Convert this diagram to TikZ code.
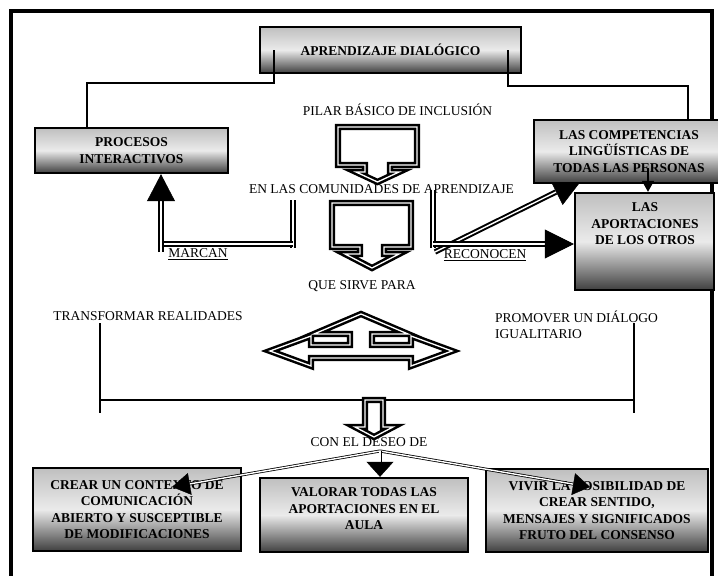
\documentclass[tikz,border=0pt]{standalone}
\usepackage{fontspec}
\setmainfont{Liberation Serif}
\usetikzlibrary{arrows.meta,calc,backgrounds}
\begin{document}
\begin{tikzpicture}[x=1pt,y=-1pt,
  box/.style={draw=black, line width=2.4pt, top color=black!25, bottom color=black!75, middle color=white!92!black,
              font=\bfseries\fontsize{13.5}{16.5}\selectfont, align=center, inner sep=0pt},
  plaintxt/.style={font=\fontsize{13.5}{16}\selectfont, inner sep=0pt, anchor=base},
  boldtxt/.style={font=\bfseries\fontsize{13.5}{16.5}\selectfont, inner sep=0pt, align=center},
  thinline/.style={draw=black, line width=1.6pt},
  dconn/.style={draw=black, line width=2pt, double=white, double distance=1.4pt},
  thind/.style={draw=black, line width=0.8pt, double=white, double distance=1.4pt},
  blockar/.style={draw=black, line width=2.5pt, double=white, double distance=1.3pt, fill=white, line join=miter},
]
\useasboundingbox (0,0) rectangle (718,576);
\fill[white] (0,0) rectangle (718,576);

% outer frame
\draw[line width=4pt] (10.5,590) -- (10.5,11) -- (712,11) -- (712,590);

% diagonal arrow under the COMPETENCIAS box (drawn first)
\coordinate (d0) at (435,252);
\coordinate (d1) at (556,192);
\coordinate (d2) at (583,178.5);
\draw[dconn] (d0) -- (d1);
\draw[line width=0.5pt, -{Triangle[length=30pt,width=29pt]}] (d1) -- (d2);

% boxes
\node[box, minimum width=261pt, minimum height=46pt] (title) at (390.5,50) {APRENDIZAJE DIALÓGICO};
\node[box, minimum width=193pt, minimum height=45pt] (procesos) at (131.5,150.5) {PROCESOS\\INTERACTIVOS};
\node[box, minimum width=190pt, minimum height=63pt] (compet) at (629,151.5) {LAS COMPETENCIAS\\LINGÜÍSTICAS DE\\TODAS LAS PERSONAS};
\node[box, minimum width=139pt, minimum height=97pt] (aport) at (644.5,241.5) {};
\node[boldtxt] (aporttxt) at (645,224) {LAS\\APORTACIONES\\DE LOS OTROS};
\node[box, minimum width=208pt, minimum height=83pt] (crear) at (137,509.5) {CREAR UN CONTEXTO DE\\COMUNICACIÓN\\ABIERTO Y SUSCEPTIBLE\\DE MODIFICACIONES};
\node[box, minimum width=208pt, minimum height=74pt] (valorar) at (364,515) {};
\node[boldtxt] (valtxt) at (364,509) {VALORAR TODAS LAS\\APORTACIONES EN EL\\AULA};
\node[box, minimum width=222pt, minimum height=83pt] (vivir) at (597,510.5) {VIVIR LA POSIBILIDAD DE\\CREAR SENTIDO,\\MENSAJES Y SIGNIFICADOS\\FRUTO DEL CONSENSO};

% title connectors
\draw[thinline] (274,50) -- (274,83) -- (87,83) -- (procesos.north -| 87,0);
\draw[thinline] (508,50) -- (508,86) -- (688,86) -- (compet.north -| 688,0);

% competencias -> aportaciones
\draw[line width=1.2pt, -{Triangle[length=11pt,width=12pt]}] (648,168) -- (aport.north -| 648,0);

% plain texts
\node[plaintxt] (pilar) at (397.5,115.5) {PILAR BÁSICO DE INCLUSIÓN};
\node[plaintxt] (comun) at (381.5,193.5) {EN LAS COMUNIDADES DE APRENDIZAJE};
\node[plaintxt] (que) at (362,289.5) {QUE SIRVE PARA};
\node[plaintxt] (marcan) at (198,257.5) {\underline{MARCAN}};
\node[plaintxt] (recon) at (485,258.5) {\underline{RECONOCEN}};
\node[plaintxt] (transf) at (148,320.5) {TRANSFORMAR REALIDADES};
\node[font=\fontsize{13.5}{16}\selectfont, inner sep=0pt, align=left, anchor=north west] (promo) at (495,311) {PROMOVER UN DIÁLOGO\\IGUALITARIO};
\node[plaintxt] (deseo) at (369,446.5) {CON EL DESEO DE};

% callout block arrows
\draw[blockar] (338,127) -- (417,127) -- (417,165) -- (390,165) -- (390,172) -- (399,172) -- (377.5,182)
  -- (356,172) -- (365,172) -- (365,165) -- (338,165) -- cycle;
\draw[blockar] (332,203) -- (411,203) -- (411,247) -- (384,247) -- (384,254) -- (399,254) -- (372,268)
  -- (345,254) -- (360,254) -- (360,247) -- (332,247) -- cycle;

% left-right-up arrow
\draw[blockar] (270,351) -- (311,336) -- (311,345) -- (350,345) -- (350,334) -- (314,334) -- (361,314)
  -- (408,334) -- (372,334) -- (372,345) -- (411,345) -- (411,336) -- (452,351) -- (411,366)
  -- (411,358) -- (311,358) -- (311,366) -- cycle;

% MARCAN connector
\coordinate (m0) at (293,200);
\coordinate (m1) at (161,244);
\coordinate (m2) at (161,200);
\draw[dconn] (m0) -- (293,248);
\draw[dconn] (m1 -| 293,0) -- (m1);
\draw[dconn] (161,252) -- (m2);
\draw[line width=0.5pt, -{Triangle[length=27pt,width=28pt]}] (m2) -- (procesos.south -| m2);

% RECONOCEN connector
\coordinate (r0) at (433,190);
\coordinate (r1) at (546,244);
\draw[dconn] (r0) -- (433,248);
\draw[dconn] (433,244) -- (r1);
\draw[line width=0.5pt, -{Triangle[length=29pt,width=29pt]}] (r1) -- (aport.west |- r1);

% bracket lines
\draw[thinline] (100,323) -- (100,413);
\draw[thinline] (634,323) -- (634,413);
\draw[thinline] (100,400) -- (634,400);

% small down block arrow
\draw[blockar] (365,400) -- (383,400) -- (383,427) -- (393,427) -- (374,437) -- (355,427) -- (365,427) -- cycle;

% three arrows from CON EL DESEO DE
\coordinate (apex) at (380,451);
\coordinate (tl) at (172,487);
\coordinate (tr) at (590,487);
\coordinate (bl) at ($(tl)!18pt!(apex)$);
\coordinate (br) at ($(tr)!17pt!(apex)$);
\coordinate (bm) at (380,465);
\draw[thind] (apex) -- (bl);
\draw[line width=0.4pt, -{Triangle[length=18pt,width=22pt]}] (bl) -- (tl);
\draw[thind] (apex) -- (br);
\draw[line width=0.4pt, -{Triangle[length=17pt,width=22pt]}] (br) -- (tr);
\draw[thind] (apex) -- (bm);
\draw[line width=0.4pt, -{Triangle[length=15pt,width=27pt]}] (bm) -- (valorar.north -| bm);
\end{tikzpicture}
\end{document}
